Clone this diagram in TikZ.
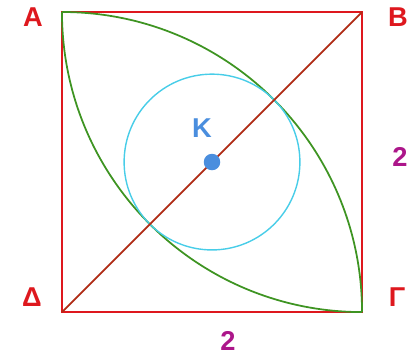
\documentclass[tikz,border=0pt]{standalone}
\usepackage{fontspec}
\setmainfont{Liberation Sans}
\usetikzlibrary{positioning}
\definecolor{sqred}{RGB}{222,24,30}
\definecolor{diagbrown}{RGB}{176,44,22}
\definecolor{arcgreen}{RGB}{62,148,34}
\definecolor{circcyan}{RGB}{72,205,232}
\definecolor{centreblue}{RGB}{74,142,222}
\definecolor{lenpurple}{RGB}{172,22,138}

\begin{document}
\begin{tikzpicture}[x=3cm, y=3cm, font=\fontsize{15.5}{18}\selectfont\bfseries,
      vlab/.style={text=sqred, inner sep=0pt},
      len/.style={text=lenpurple, inner sep=0pt},
      side/.style={sqred, line width=1pt},
      arcline/.style={arcgreen, line width=1pt}]
    \useasboundingbox (-0.413,-0.307) rectangle (2.353,2.08);
    % corners
    \coordinate (d) at (0,0);
    \coordinate (g) at (2,0);
    \coordinate (b) at (2,2);
    \coordinate (a) at (0,2);
    \coordinate (k) at (1,1);
    \draw[side] (a) -- (b) -- (g) -- (d) -- cycle;
    \draw[arcline] (a) arc[start angle=90, end angle=0, radius=2];
    \draw[arcline] (a) arc[start angle=180, end angle=270, radius=2];
    \draw[circcyan, line width=0.8pt] (k) circle[radius=0.5858];
    \draw[diagbrown, line width=1pt] (d) -- (b);
    \fill[centreblue] (k) circle[radius=0.055];
    % labels
    \node[vlab] (la) at (-0.193,1.967) {A};
    \node[vlab] (lb) at (2.24,1.967) {B};
    \node[vlab] (lg) at (2.233,0.1) {Γ};
    \node[vlab] (ld) at (-0.2,0.1) {Δ};
    \node[text=centreblue, inner sep=0pt] (lk) at (0.933,1.227) {K};
    \node[len] (lr) at (2.253,1.033) {2};
    \node[len] (lbot) at (1.107,-0.193) {2};
\end{tikzpicture}
\end{document}
